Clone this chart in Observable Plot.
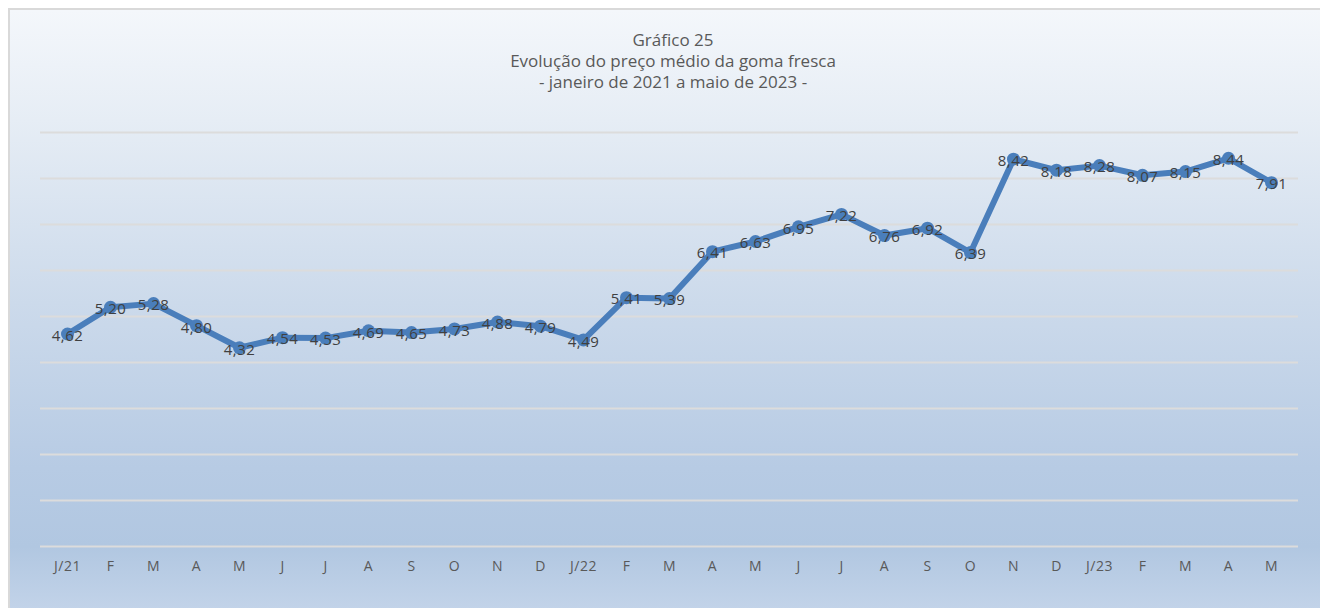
<!DOCTYPE html>
<html>
<head>
<meta charset="utf-8">
<script src="https://cdn.jsdelivr.net/npm/d3@7"></script>
<script src="https://cdn.jsdelivr.net/npm/@observablehq/plot@0.6"></script>
<style>
  html, body { margin: 0; padding: 0; width: 1320px; height: 608px; overflow: hidden; background: #ffffff; }
  #panel {
    position: absolute; left: 8px; top: 8px; width: 1330px; height: 610px;
    border-top: 2px solid #d9d9d9; border-left: 2px solid #d9d9d9;
    background: linear-gradient(to bottom, #f4f7fb 0%, #e6edf5 18%, #ccdaeb 48%, #b7cbe4 75%, #b1c7e1 88%, #c5d5ea 100%);
  }
  #title {
    position: absolute; left: 44px; width: 1258px; top: 29px;
    text-align: center; font-family: "Open Sans", sans-serif; font-size: 17px; line-height: 21px; color: #595959;
  }
  #title div { height: 21px; }
  #chart { position: absolute; left: 0; top: 100px; }
</style>
</head>
<body>
<div id="panel"></div>
<div id="title"><div>Gráfico 25</div><div>Evolução do preço médio da goma fresca</div><div>- janeiro de 2021 a maio de 2023 -</div></div>
<div id="chart"></div>
<script>
const months = ["J/21","F","M","A","M","J","J","A","S","O","N","D","J/22","F","M","A","M","J","J","A","S","O","N","D","J/23","F","M","A","M"];
const prices = [4.62,5.20,5.28,4.80,4.32,4.54,4.53,4.69,4.65,4.73,4.88,4.79,4.49,5.41,5.39,6.41,6.63,6.95,7.22,6.76,6.92,6.39,8.42,8.18,8.28,8.07,8.15,8.44,7.91];
const gridValues = [0,1,2,3,4,5,6,7,8,9];

const data = prices.map((v, i) => ({i, v}));
const fmt = v => v.toFixed(2).replace(".", ",");

const chart = Plot.plot({
  width: 1320,
  height: 486,
  marginLeft: 40,
  marginRight: 22,
  marginTop: 32,
  marginBottom: 40,
  style: {background: "transparent", color: "#595959", fontFamily: "'Open Sans', sans-serif", fontSize: "14px", letterSpacing: "0.5px"},
  x: {type: "point", domain: d3.range(months.length), padding: 0.5, tickFormat: i => months[i], tickSize: 0, tickPadding: 15, label: null},
  y: {domain: [0, 9], axis: null},
  marks: [
    Plot.ruleY(gridValues, {stroke: "#dcdcdc", strokeWidth: 2}),
    Plot.line(data, {x: "i", y: "v", stroke: "#4a7ebb", strokeWidth: 6, strokeLinejoin: "round", strokeLinecap: "round"}),
    Plot.dot(data, {x: "i", y: "v", r: 6.5, fill: "#4a7ebb", stroke: "none"}),
    Plot.text(data, {x: "i", y: "v", text: d => fmt(d.v), dy: 2, fill: "#404040", fontSize: 15, style: {letterSpacing: "0px"}})
  ]
});
document.getElementById("chart").appendChild(chart);
</script>
</body>
</html>
